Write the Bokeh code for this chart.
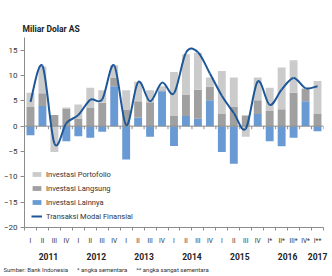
import numpy as np
from bokeh.plotting import figure
from bokeh.models import LinearAxis, FixedTicker, Range1d, Legend, LegendItem, Title
from bokeh.layouts import column
from bokeh.embed import file_html
from bokeh.resources import INLINE

# ---------------- data ----------------
quarters = ["I", "II", "III", "IV"] * 5 + ["I*", "II*", "III*", "IV*", "I**"]
years = ["2011", "2012", "2013", "2014", "2015", "2016", "2017"]
year_quarters = [4, 4, 4, 4, 4, 4, 1]

portofolio = [2.8, 5.3, -5.1, 0.3,
              2.8, 4.0, 2.5, 2.4,
              3.8, 3.85, 2.4, 0.8,
              8.7, 7.95, 7.3, 1.8,
              8.5, 5.7, -2.1, 4.5,
              4.6, 8.25, 6.4, 0.1,
              6.5]
langsung = [3.8, 2.5, 2.2, 3.4,
            1.5, 3.6, 4.6, 1.7,
            3.3, 3.2, 4.7, 0.2,
            2.0, 4.25, 5.75, 2.7,
            2.4, 3.9, 2.1, 2.7,
            3.0, 3.35, 6.6, 2.5,
            2.4]
lainnya = [-1.8, 4.0, 0.0, -3.0,
           -2.0, -2.3, -1.1, 7.9,
           -6.6, 1.7, -2.1, 6.9,
           -3.9, 2.0, 1.45, 5.1,
           -5.1, -7.4, 0.0, 2.4,
           -3.0, -3.95, -2.3, 4.9,
           -1.0]
modal_finansial = [4.8, 11.9, -3.4, 0.6,
                   2.2, 5.2, 5.3, 12.0,
                   0.2, 8.7, 4.9, 8.6,
                   6.5, 14.5, 14.6, 10.4,
                   6.0, 2.6, -0.5, 8.8,
                   4.2, 7.2, 9.5, 7.5,
                   7.9]
y_ticks = [-20, -15, -10, -5, 0, 5, 10, 15]

# ---------------- styles ----------------
FONT = "Roboto"
C_PORT = "#cbcbcb"
C_LANG = "#a0a0a0"
C_LAIN = "#6a9ad3"
C_LINE = "#1d5799"
C_AXIS = "#8c8c8c"
C_TEXT = "#333333"

n = len(quarters)
xs = np.arange(n, dtype=float)

# top blue strip
strip = figure(width=332, height=5, output_backend="svg", toolbar_location=None,
               x_axis_type=None, y_axis_type=None, min_border=0,
               background_fill_color="#0d4f96", border_fill_color="#0d4f96",
               outline_line_color=None)
strip.x_range = Range1d(0, 1)
strip.y_range = Range1d(0, 1)

p = figure(width=332, height=271, output_backend="svg", toolbar_location=None,
           x_range=Range1d(-0.5, n - 0.5), y_range=Range1d(-20, 17.5),
           x_axis_type=None, y_axis_type=None,
           min_border_left=24, min_border_right=9, min_border_top=32, min_border_bottom=49)
p.outline_line_color = None
p.xgrid.visible = False
p.ygrid.visible = False

p.title.text = "Miliar Dolar AS"
p.title.text_font = FONT
p.title.text_font_size = "8.5px"
p.title.text_font_style = "bold"
p.title.text_color = "#222222"
p.title.align = "left"
p.title.offset = -2
p.title.standoff = 8

# stacked bars: order from the zero line outward
pos_base = np.zeros(n)
neg_base = np.zeros(n)
renderers = {}
for name, vals, col in [("lain", lainnya, C_LAIN), ("lang", langsung, C_LANG), ("port", portofolio, C_PORT)]:
    v = np.array(vals, dtype=float)
    bottom = np.where(v >= 0, pos_base, neg_base)
    top = bottom + v
    pos_base = np.where(v > 0, pos_base + v, pos_base)
    neg_base = np.where(v < 0, neg_base + v, neg_base)
    renderers[name] = p.vbar(x=xs, bottom=bottom, top=top, width=0.66,
                             fill_color=col, line_color=None)

# zero line with boundary ticks
bounds = np.arange(n + 1) - 0.5
p.segment(x0=[-0.5], y0=[0], x1=[n - 0.5], y1=[0], line_color=C_AXIS, line_width=1)
p.segment(x0=bounds, y0=np.zeros(n + 1), x1=bounds, y1=np.full(n + 1, -0.6),
          line_color=C_AXIS, line_width=1)

# smoothed line (Catmull-Rom as Bezier segments)
ym = np.array(modal_finansial, dtype=float)
xp = np.concatenate([[xs[0]], xs, [xs[-1]]])
yp = np.concatenate([[ym[0]], ym, [ym[-1]]])
x0 = xs[:-1]; y0 = ym[:-1]; x1 = xs[1:]; y1 = ym[1:]
cx0 = x0 + (xp[2:-1] - xp[0:-3]) / 6.0
cy0 = y0 + (yp[2:-1] - yp[0:-3]) / 6.0
cx1 = x1 - (xp[3:] - xp[1:-2]) / 6.0
cy1 = y1 - (yp[3:] - yp[1:-2]) / 6.0
line_r = p.bezier(x0=x0, y0=y0, x1=x1, y1=y1, cx0=cx0, cy0=cy0, cx1=cx1, cy1=cy1,
                  line_color=C_LINE, line_width=2)

# y axis
yax = LinearAxis(ticker=FixedTicker(ticks=y_ticks, minor_ticks=[]))
yax.axis_line_color = C_AXIS
yax.major_tick_line_color = C_AXIS
yax.major_tick_out = 4
yax.major_tick_in = 0
yax.minor_tick_line_color = None
yax.major_label_text_font = FONT
yax.major_label_text_font_size = "8px"
yax.major_label_text_color = C_TEXT
yax.major_label_standoff = 3
p.add_layout(yax, "left")

# quarter axis
qax = LinearAxis(ticker=FixedTicker(ticks=list(xs), minor_ticks=list(bounds)))
qax.major_label_overrides = {float(i): q for i, q in enumerate(quarters)}
qax.axis_line_color = C_AXIS
qax.major_tick_line_color = None
qax.major_tick_out = 0
qax.major_tick_in = 0
qax.minor_tick_line_color = C_AXIS
qax.minor_tick_out = 3
qax.minor_tick_in = 0
qax.major_label_text_font = FONT
qax.major_label_text_font_size = "6.5px"
qax.major_label_text_color = C_TEXT
qax.major_label_standoff = 6
p.add_layout(qax, "below")

# year axis
starts = np.concatenate([[0], np.cumsum(year_quarters)[:-1]])
centers = [float(s + (k - 1) / 2.0) for s, k in zip(starts, year_quarters)]
yrax = LinearAxis(ticker=FixedTicker(ticks=centers, minor_ticks=[]))
yrax.major_label_overrides = {c: y for c, y in zip(centers, years)}
yrax.axis_line_color = None
yrax.major_tick_line_color = None
yrax.minor_tick_line_color = None
yrax.major_tick_out = 0
yrax.major_tick_in = 0
yrax.major_label_text_font = FONT
yrax.major_label_text_font_size = "8.5px"
yrax.major_label_text_font_style = "bold"
yrax.major_label_text_color = "#222222"
yrax.major_label_standoff = 5
p.add_layout(yrax, "below")

gap = "\u00a0" * 6
src = Title(text="Sumber: Bank Indonesia" + gap + "* angka sementara" + gap + "** angka sangat sementara",
            align="left", offset=-21, text_font=FONT, text_font_size="6px",
            text_font_style="normal", text_color=C_TEXT, standoff=3)
p.add_layout(src, "below")

legend = Legend(items=[
    LegendItem(label="Investasi Portofolio", renderers=[renderers["port"]]),
    LegendItem(label="Investasi Langsung", renderers=[renderers["lang"]]),
    LegendItem(label="Investasi Lainnya", renderers=[renderers["lain"]]),
    LegendItem(label="Transaksi Modal Finansial", renderers=[line_r]),
], location=(7, 6))
legend.label_text_font = FONT
legend.label_text_font_size = "7.5px"
legend.label_text_color = C_TEXT
legend.glyph_width = 11
legend.glyph_height = 6
legend.label_height = 10
legend.label_standoff = 4
legend.spacing = 4
legend.padding = 0
legend.margin = 0
legend.border_line_color = None
legend.background_fill_alpha = 0
p.add_layout(legend, "center")

layout = column(strip, p, spacing=0)
open("out.html", "w").write(file_html(layout, INLINE))
